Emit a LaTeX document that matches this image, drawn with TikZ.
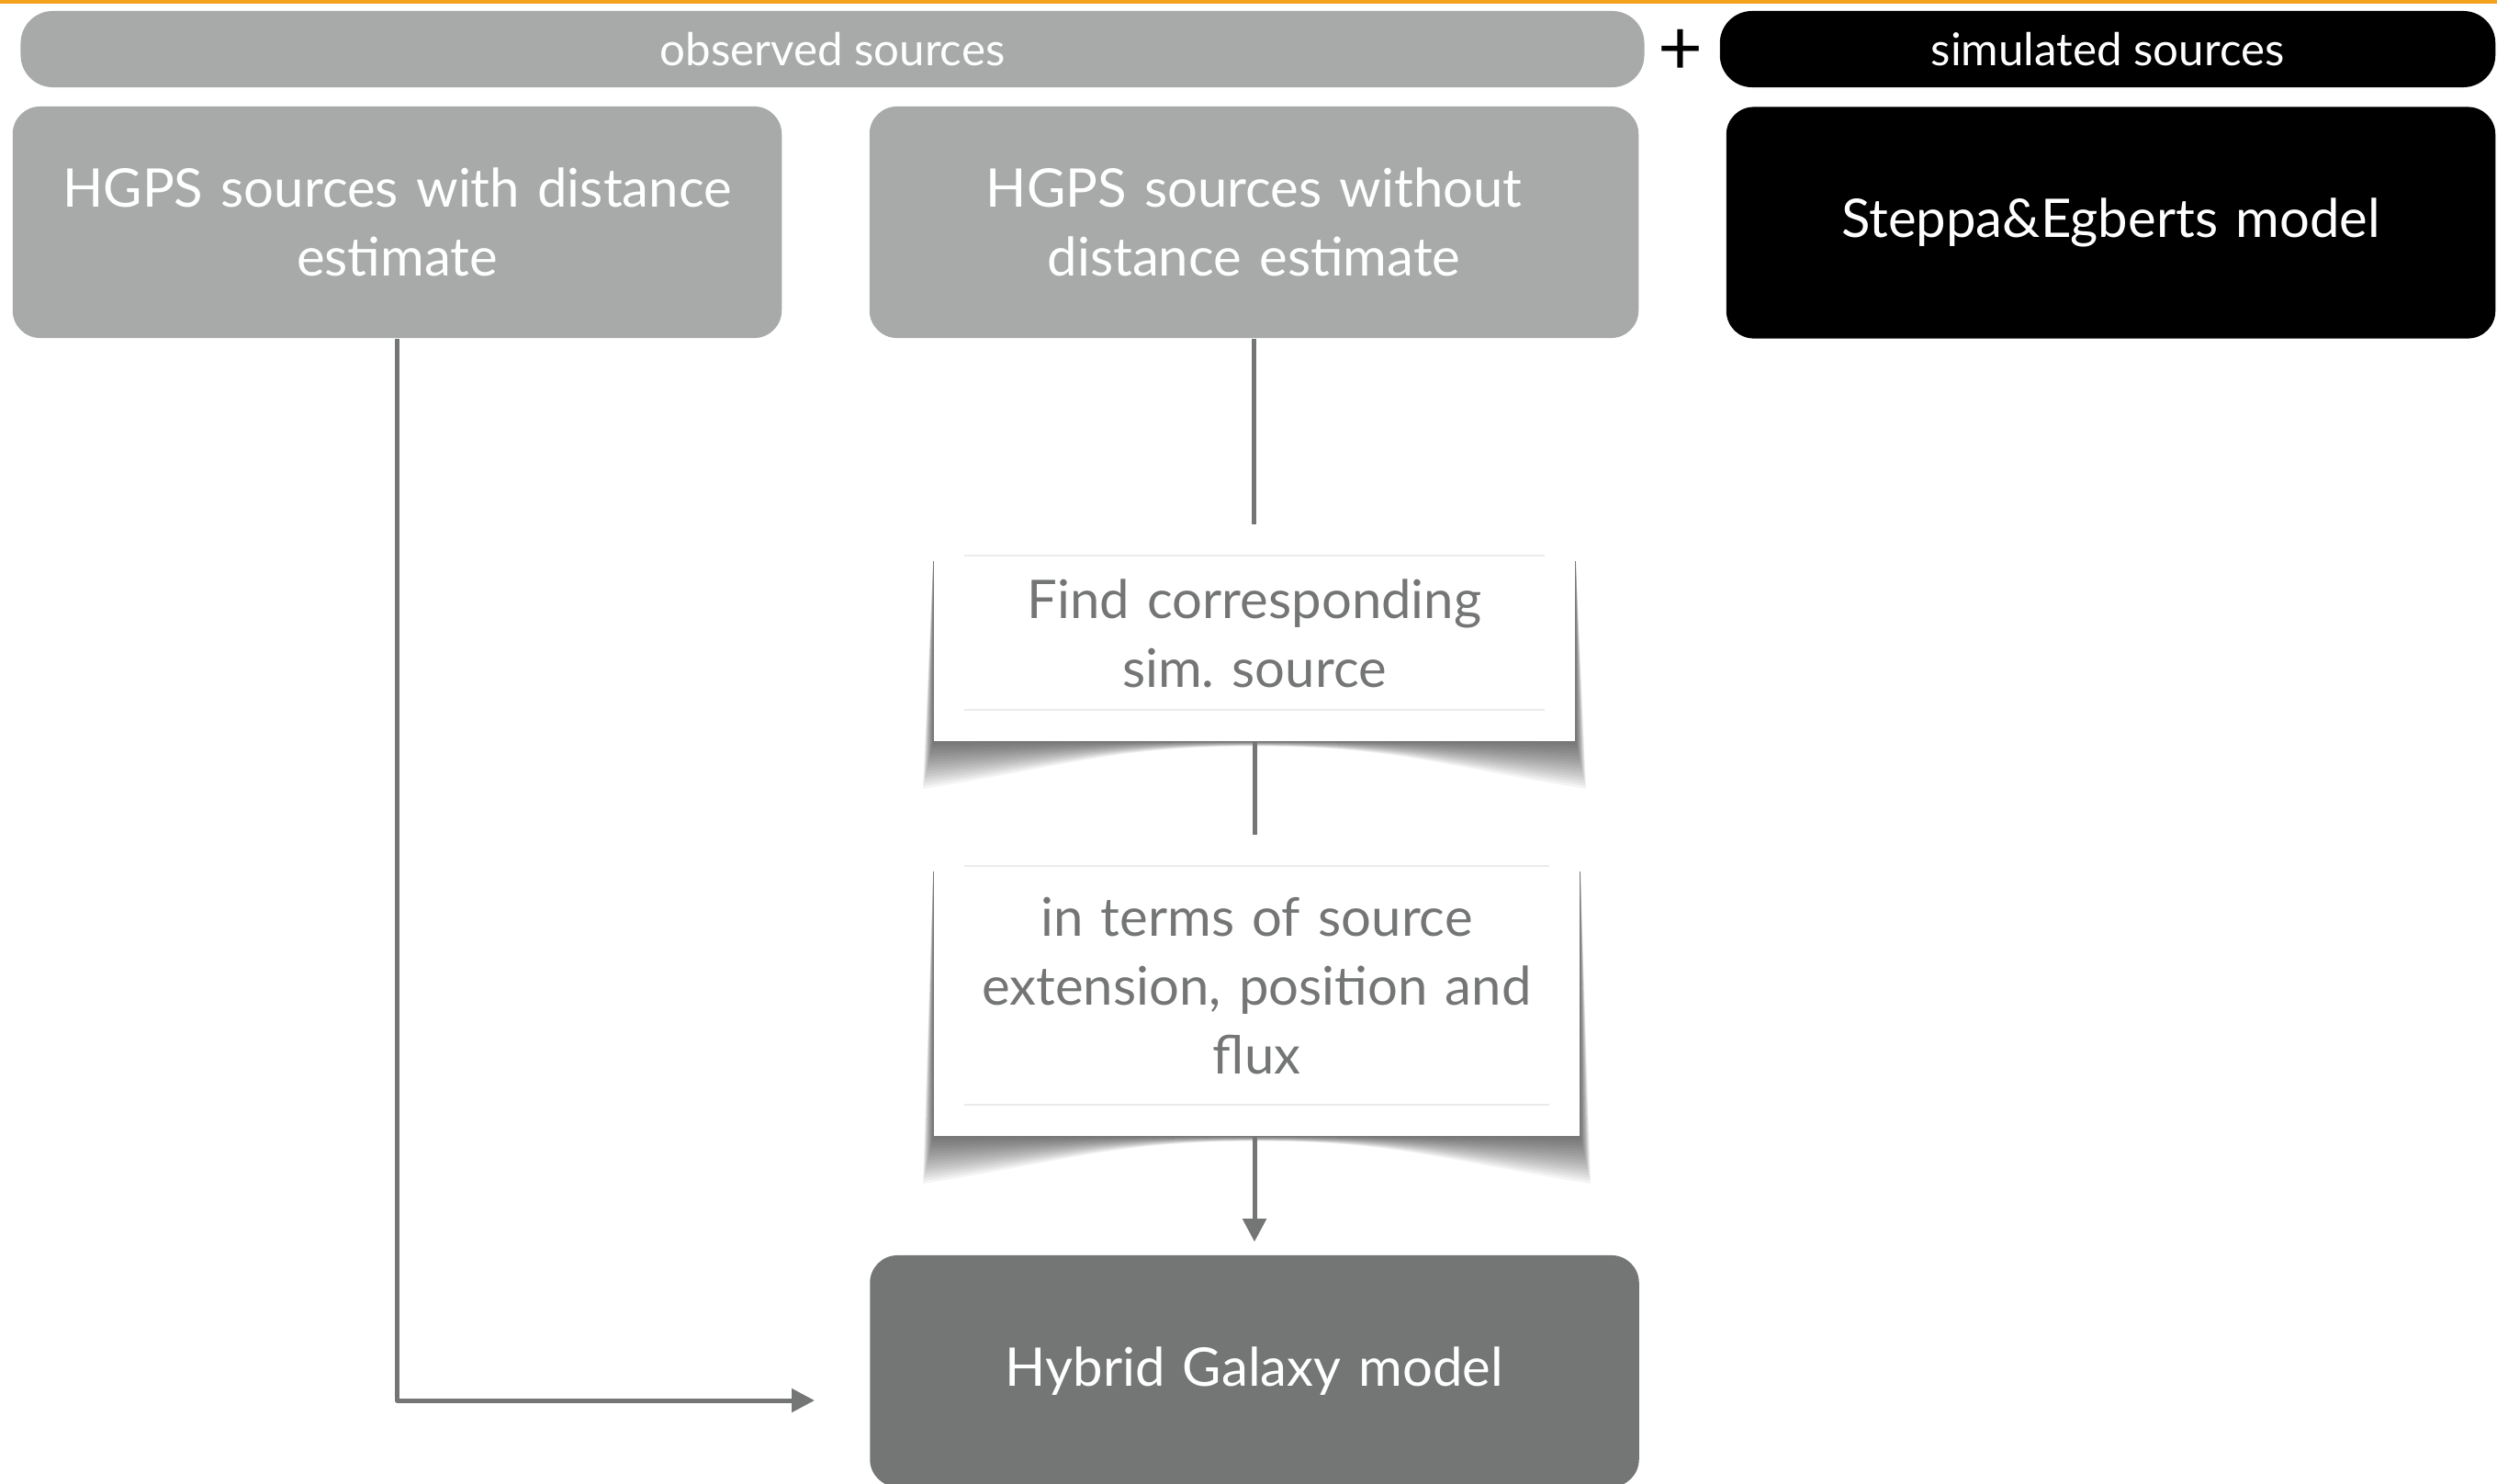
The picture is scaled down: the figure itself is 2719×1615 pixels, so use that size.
\documentclass[tikz,border=0pt]{standalone}
\usepackage{fontspec}
\setmainfont{Lato}
\usetikzlibrary{arrows.meta,calc,backgrounds}
\definecolor{obsgray}{HTML}{A7AAA9}
\definecolor{hybgray}{HTML}{747675}
\definecolor{slideorange}{HTML}{F4A11C}
\begin{document}
\begin{tikzpicture}[x=0.01cm,y=-0.01cm,line join=round,
  bar/.style={rounded corners=0.35cm,minimum height=0.83cm,inner sep=0pt,text=white,font=\fontsize{14}{16}\selectfont},
  box/.style={rounded corners=0.3cm,minimum width=8.37cm,minimum height=2.52cm,text width=7.9cm,align=center,inner sep=0pt,text=white,font=\fontsize{16.5}{21.3}\selectfont},
  card/.style={fill=white,text width=6.6cm,align=center,inner sep=0pt,text=hybgray,font=\fontsize{16.5}{21.3}\selectfont},
  conn/.style={draw=hybgray,line width=0.05cm},
  rule/.style={draw=black!8,line width=0.015cm},
  >={Triangle[length=0.25cm,width=0.25cm]}]
\useasboundingbox (0,0) rectangle (2719,1615);
\frenchspacing
% header bars
\node[bar,fill=obsgray,minimum width=17.67cm] (obs) at (906.5,53.5) {observed sources};
\node[bar,fill=black,minimum width=8.44cm] (sim) at (2295,53.5) {simulated sources};
\node[font=\fontsize{24}{24}\selectfont,inner sep=0pt] (plus) at (1830,57) {+};
% source boxes
\node[box,fill=obsgray] (with) at (432.5,242) {HGPS sources with distance\\estimate};
\node[box,fill=obsgray] (without) at (1365.5,242) {HGPS sources without\\distance estimate};
\node[box,fill=black] (se) at (2298.5,242.5) {\raisebox{-0.1cm}{Steppa\&Egberts model}};
% matching steps
\node[card,minimum width=6.98cm,minimum height=2.35cm] (find) at (1366,689.5) {Find corresponding\\sim. source};
\node[card,minimum width=7.03cm,minimum height=3.27cm] (terms) at (1368.5,1073.5) {in terms of source\\extension, position and\\flux};
\node[box,fill=hybgray] (hyb) at (1366,1493) {Hybrid Galaxy model};
\foreach \n in {find,terms} {
  \draw[rule] ($(\n.north west)+(34,34)$) -- ($(\n.north east)+(-34,34)$);
  \draw[rule] ($(\n.south west)+(34,-35)$) -- ($(\n.south east)+(-34,-35)$);
}
% curled shadows
\begin{scope}[on background layer]
  \fill[white] (0,0) rectangle (2719,1615);
  \foreach \n in {find,terms}
    \foreach \k in {1,...,16}
      \fill[black,opacity=0.045] ($(\n.north west)+(0,40)$) -- ($(\n.south west)+(-0.7*\k,3.2*\k)$)
        .. controls ($(\n.south west)+(150,1.6*\k)$) and ($(\n.south)+(-150,0.3*\k)$) .. ($(\n.south)+(0,0.3*\k)$)
        .. controls ($(\n.south)+(150,0.3*\k)$) and ($(\n.south east)+(-150,1.6*\k)$) .. ($(\n.south east)+(0.7*\k,3.2*\k)$)
        -- ($(\n.north east)+(0,40)$) -- cycle;
\end{scope}
% connectors
\coordinate (hin) at (887,1525);
\draw[conn] (without) -- (without |- find.north);
\draw[conn] (find) -- (find |- terms.north);
\draw[conn,->,shorten >=0.14cm] (terms.south -| hyb) -- (hyb);
\draw[conn,->] (with.south) |- (hin);
\fill[slideorange] (0,0) rectangle (2719,4);
\end{tikzpicture}
\end{document}
